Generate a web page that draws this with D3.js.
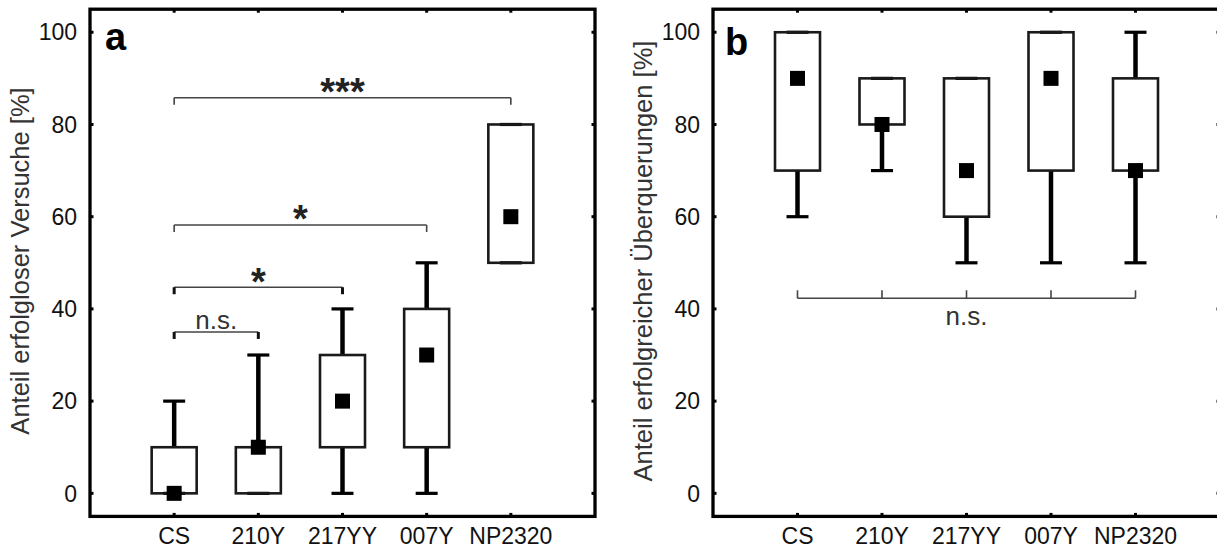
<!DOCTYPE html>
<html>
<head>
<meta charset="utf-8">
<script src="https://cdn.jsdelivr.net/npm/d3@7"></script>
<style>
  html, body { margin: 0; padding: 0; background: #fff; }
  svg { display: block; }
  text { font-family: "Liberation Sans", Arial, sans-serif; fill: #111; }
</style>
</head>
<body>
<div id="chart"></div>
<script>
const W = 1217, H = 549;

// categories and box values
const categories = ['CS', '210Y', '217YY', '007Y', 'NP2320'];
const yTicks = [0, 20, 40, 60, 80, 100];

// panel a: Anteil erfolgloser Versuche [%]
const failMin = [0, 0, 0, 0, 50];
const failQ1 = [0, 0, 10, 10, 50];
const failQ3 = [10, 10, 30, 40, 80];
const failMax = [20, 30, 40, 50, 80];
const failMedian = [0, 10, 20, 30, 60];

// panel b: Anteil erfolgreicher Überquerungen [%]
const successMin = [60, 70, 50, 50, 50];
const successQ1 = [70, 80, 60, 70, 70];
const successQ3 = [100, 90, 90, 100, 90];
const successMax = [100, 90, 90, 100, 100];
const successMedian = [90, 80, 70, 90, 70];

// significance brackets
const failSigFrom = ['CS', 'CS', 'CS', 'CS'];
const failSigTo = ['210Y', '217YY', '007Y', 'NP2320'];
const failSigLevel = [35, 44.7, 58.2, 85.8];
const failSigLabel = ['n.s.', '*', '*', '***'];
const successSigLevel = 42.3;
const successSigLabel = 'n.s.';

const svg = d3.select("#chart")
    .append("svg")
    .attr("width", W)
    .attr("height", H);

const y = d3.scaleLinear().domain([-5, 105]).range([516.4, 9.2]);

function drawPanel(opt) {
    const g = svg.append("g");
    const x = d3.scalePoint()
        .domain(categories)
        .range([opt.x0, opt.x1])
        .padding(1);

    const boxW = 45, capW = 22, medW = 15;

    // significance brackets
    opt.sig.forEach(s => {
        const x1 = x(s.from), x2 = x(s.to), yy = y(s.level);
        g.append("line")
            .attr("x1", x1).attr("x2", x2)
            .attr("y1", yy).attr("y2", yy)
            .attr("stroke", "#444").attr("stroke-width", 1.4);
        s.ticks.forEach(c => {
            g.append("line")
                .attr("x1", x(c)).attr("x2", x(c))
                .attr("y1", yy - (s.up ? 8 : 0)).attr("y2", yy + (s.up ? 0 : 7))
                .attr("stroke", s.thick ? "#111" : "#444")
                .attr("stroke-width", s.thick ? 3 : 1.6);
        });
        const star = s.label.indexOf('*') === 0;
        g.append("text")
            .attr("x", s.labelAt ? x(s.labelAt) : (x1 + x2) / 2)
            .attr("y", yy + s.dy)
            .attr("text-anchor", "middle")
            .attr("font-size", star ? 38 : 26)
            .attr("font-weight", star ? "bold" : "normal")
            .style("fill", star ? "#222" : "#333")
            .text(s.label);
    });

    // whiskers
    categories.forEach((c, i) => {
        const cx = x(c);
        if (opt.max[i] > opt.q3[i]) {
            g.append("line").attr("x1", cx).attr("x2", cx)
                .attr("y1", y(opt.q3[i])).attr("y2", y(opt.max[i]))
                .attr("stroke", "#000").attr("stroke-width", 4.5);
        }
        if (opt.min[i] < opt.q1[i]) {
            g.append("line").attr("x1", cx).attr("x2", cx)
                .attr("y1", y(opt.q1[i])).attr("y2", y(opt.min[i]))
                .attr("stroke", "#000").attr("stroke-width", 4.5);
        }
        [opt.min[i], opt.max[i]].forEach(v => {
            g.append("line")
                .attr("x1", cx - capW / 2).attr("x2", cx + capW / 2)
                .attr("y1", y(v)).attr("y2", y(v))
                .attr("stroke", "#000").attr("stroke-width", 3.2);
        });
    });

    // boxes
    g.selectAll(".box")
        .data(categories)
        .enter()
        .append("rect")
        .attr("x", d => x(d) - boxW / 2)
        .attr("y", (d, i) => y(opt.q3[i]))
        .attr("width", boxW)
        .attr("height", (d, i) => y(opt.q1[i]) - y(opt.q3[i]))
        .attr("fill", "none")
        .attr("stroke", "#1a1a1a")
        .attr("stroke-width", 2.6);

    // median squares
    g.selectAll(".med")
        .data(categories)
        .enter()
        .append("rect")
        .attr("x", d => x(d) - medW / 2)
        .attr("y", (d, i) => y(opt.median[i]) - medW / 2)
        .attr("width", medW)
        .attr("height", medW)
        .attr("fill", "#000");

    // frame
    const top = y(105), bot = y(-5);
    g.append("rect")
        .attr("x", opt.x0).attr("y", top)
        .attr("width", opt.x1 - opt.x0).attr("height", bot - top)
        .attr("fill", "none").attr("stroke", "#000").attr("stroke-width", 3.3);

    // inward ticks on all four sides
    const tk = 3.5;
    categories.forEach(c => {
        g.append("line").attr("x1", x(c)).attr("x2", x(c))
            .attr("y1", top).attr("y2", top + tk)
            .attr("stroke", "#000").attr("stroke-width", 3);
        g.append("line").attr("x1", x(c)).attr("x2", x(c))
            .attr("y1", bot).attr("y2", bot - tk)
            .attr("stroke", "#000").attr("stroke-width", 3);
        g.append("text")
            .attr("x", x(c)).attr("y", 544)
            .attr("text-anchor", "middle")
            .attr("font-size", 23)
            .text(c);
    });
    yTicks.forEach(t => {
        g.append("line").attr("x1", opt.x0).attr("x2", opt.x0 + tk)
            .attr("y1", y(t)).attr("y2", y(t))
            .attr("stroke", "#000").attr("stroke-width", 3);
        g.append("line").attr("x1", opt.x1).attr("x2", opt.x1 - tk)
            .attr("y1", y(t)).attr("y2", y(t))
            .attr("stroke", "#000").attr("stroke-width", 3);
        g.append("text")
            .attr("x", opt.x0 - 13).attr("y", y(t) + 8.2)
            .attr("text-anchor", "end")
            .attr("font-size", 23)
            .text(t);
    });

    // y title
    g.append("text")
        .attr("transform", `translate(${opt.x0 - 61},261) rotate(-90)`)
        .attr("text-anchor", "middle")
        .attr("font-size", 25.5)
        .style("fill", "#333")
        .text(opt.title);

    // panel letter
    g.append("text")
        .attr("x", opt.x0 + opt.letterDx).attr("y", opt.letterY)
        .attr("font-size", 38)
        .attr("font-weight", "bold")
        .style("fill", "#000")
        .text(opt.letter);
}

drawPanel({
    x0: 90, x1: 595,
    min: failMin, q1: failQ1, q3: failQ3, max: failMax, median: failMedian,
    title: 'Anteil erfolgloser Versuche [%]',
    letter: 'a', letterDx: 15, letterY: 50,
    sig: failSigLevel.map((lv, i) => ({
        from: failSigFrom[i], to: failSigTo[i], level: lv, label: failSigLabel[i],
        ticks: [failSigFrom[i], failSigTo[i]],
        thick: i < 2,
        dy: failSigLabel[i] === 'n.s.' ? -2.5 : 7.5
    }))
});

drawPanel({
    x0: 713, x1: 1220,
    min: successMin, q1: successQ1, q3: successQ3, max: successMax, median: successMedian,
    title: 'Anteil erfolgreicher Überquerungen [%]',
    letter: 'b', letterDx: 12, letterY: 55,
    sig: [{
        from: categories[0], to: categories[categories.length - 1],
        level: successSigLevel, label: successSigLabel,
        ticks: categories, up: true, thick: false,
        labelAt: categories[2], dy: 27
    }]
});
</script>
</body>
</html>
